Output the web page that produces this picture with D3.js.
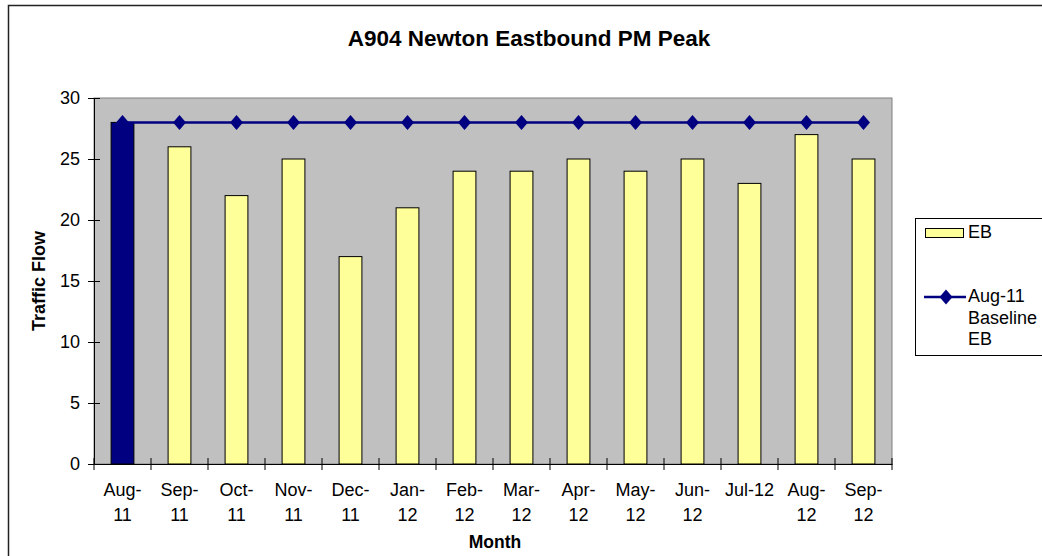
<!DOCTYPE html>
<html>
<head>
<meta charset="utf-8">
<script src="https://cdn.jsdelivr.net/npm/d3@7"></script>
<style>
  html, body { margin: 0; padding: 0; background: #fff; }
  svg { display: block; font-family: Arial, "Liberation Sans", sans-serif; }
</style>
</head>
<body>
<svg id="chart" width="1042" height="556"></svg>
<script>
const categories = ["Aug-11","Sep-11","Oct-11","Nov-11","Dec-11","Jan-12","Feb-12","Mar-12","Apr-12","May-12","Jun-12","Jul-12","Aug-12","Sep-12"];
const tickLabels = [["Aug-","11"],["Sep-","11"],["Oct-","11"],["Nov-","11"],["Dec-","11"],["Jan-","12"],["Feb-","12"],["Mar-","12"],["Apr-","12"],["May-","12"],["Jun-","12"],["Jul-12"],["Aug-","12"],["Sep-","12"]];
const ebValues = [28, 26, 22, 25, 17, 21, 24, 24, 25, 24, 25, 23, 27, 25];
const baselineValues = [28, 28, 28, 28, 28, 28, 28, 28, 28, 28, 28, 28, 28, 28];
const yTicks = [0, 5, 10, 15, 20, 25, 30];
const seriesNames = ["EB", ["Aug-11", "Baseline", "EB"]];
const titleText = "A904 Newton Eastbound PM Peak";
const xTitle = "Month";
const yTitle = "Traffic Flow";

const svg = d3.select("#chart");
const plot = { left: 94, right: 892, top: 98, bottom: 464 };

// outer chart border
svg.append("rect").attr("x", 8.5).attr("y", 5.5).attr("width", 1100).attr("height", 600)
  .attr("fill", "#fff").attr("stroke", "#222").attr("stroke-width", 1.5);

const x = d3.scaleBand().domain(categories).range([plot.left, plot.right]).padding(0);
const y = d3.scaleLinear().domain([0, 30]).range([plot.bottom, plot.top]);

// plot area
svg.append("rect").attr("x", plot.left).attr("y", plot.top)
  .attr("width", plot.right - plot.left).attr("height", plot.bottom - plot.top)
  .attr("fill", "#C0C0C0").attr("stroke", "#808080").attr("stroke-width", 1);

// bars
const barW = x.bandwidth() * 0.4;
svg.append("g").selectAll("rect").data(ebValues).join("rect")
  .attr("x", (d, i) => x(categories[i]) + x.bandwidth() / 2 - barW / 2)
  .attr("y", d => y(d))
  .attr("width", barW)
  .attr("height", d => y(0) - y(d))
  .attr("fill", (d, i) => i === 0 ? "#000080" : "#FFFF99")
  .attr("stroke", "#000").attr("stroke-width", 1);

// y axis
const yAxis = d3.axisLeft(y).tickValues(yTicks).tickSize(0).tickPadding(14);
const ya = svg.append("g").attr("transform", `translate(${plot.left},0)`).call(yAxis);
ya.select(".domain").attr("stroke", "#000");
ya.selectAll(".tick text").attr("font-size", 18).attr("fill", "#000")
  .attr("font-family", "Arial, 'Liberation Sans', sans-serif");
ya.selectAll(".tick").append("line").attr("x1", -6).attr("x2", 6).attr("stroke", "#000");

// x axis
const xa = svg.append("g").attr("transform", `translate(0,${plot.bottom})`)
  .call(d3.axisBottom(x).tickSize(0).tickFormat(""));
xa.select(".domain").attr("stroke", "#000");
xa.selectAll(".tick").remove();
const bounds = categories.map(c => x(c)).concat([x(categories[categories.length - 1]) + x.bandwidth()]);
xa.selectAll("line.b").data(bounds).join("line").attr("class", "b")
  .attr("x1", d => d).attr("x2", d => d).attr("y1", -6).attr("y2", 6).attr("stroke", "#000");

// x tick labels
const lbl = svg.append("g").attr("font-size", 18).attr("fill", "#000").attr("text-anchor", "middle");
tickLabels.forEach((lines, i) => {
  const cx = x(categories[i]) + x.bandwidth() / 2;
  lines.forEach((t, j) => {
    lbl.append("text").attr("x", cx).attr("y", 496 + j * 25).text(t);
  });
});

// custom diamond marker
const diamondType = {
  draw(ctx) {
    ctx.moveTo(0, -7.5); ctx.lineTo(6.5, 0); ctx.lineTo(0, 7.5); ctx.lineTo(-6.5, 0); ctx.closePath();
  }
};
const diamond = d3.symbol().type(diamondType);

// baseline line
const line = d3.line().x((d, i) => x(categories[i]) + x.bandwidth() / 2).y(d => y(d));
svg.append("path").datum(baselineValues).attr("d", line)
  .attr("fill", "none").attr("stroke", "#000080").attr("stroke-width", 2.5);
svg.append("g").selectAll("path").data(baselineValues).join("path")
  .attr("transform", (d, i) => `translate(${x(categories[i]) + x.bandwidth() / 2},${y(d)})`)
  .attr("d", diamond).attr("fill", "#000080");

// titles
svg.append("text").attr("x", 529).attr("y", 46).attr("text-anchor", "middle")
  .attr("font-size", 22.5).attr("font-weight", "bold").text(titleText);
svg.append("text").attr("x", 495).attr("y", 548).attr("text-anchor", "middle")
  .attr("font-size", 17.5).attr("font-weight", "bold").text(xTitle);
svg.append("text").attr("transform", `translate(45,${(plot.top + plot.bottom) / 2}) rotate(-90)`)
  .attr("text-anchor", "middle").attr("font-size", 18).attr("font-weight", "bold").text(yTitle);

// legend
const lg = svg.append("g");
lg.append("rect").attr("x", 915.5).attr("y", 218.5).attr("width", 200).attr("height", 137)
  .attr("fill", "#fff").attr("stroke", "#000").attr("stroke-width", 1);
lg.append("rect").attr("x", 925.5).attr("y", 228.5).attr("width", 38).attr("height", 9)
  .attr("fill", "#FFFF99").attr("stroke", "#000");
lg.append("text").attr("x", 968).attr("y", 238).attr("font-size", 18).text(seriesNames[0]);
lg.append("line").attr("x1", 924).attr("x2", 966).attr("y1", 297).attr("y2", 297)
  .attr("stroke", "#000080").attr("stroke-width", 2.5);
lg.append("path").attr("transform", "translate(946,297)").attr("d", diamond).attr("fill", "#000080");
seriesNames[1].forEach((t, j) => {
  lg.append("text").attr("x", 968).attr("y", 302 + j * 21.5).attr("font-size", 18).text(t);
});
</script>
</body>
</html>
